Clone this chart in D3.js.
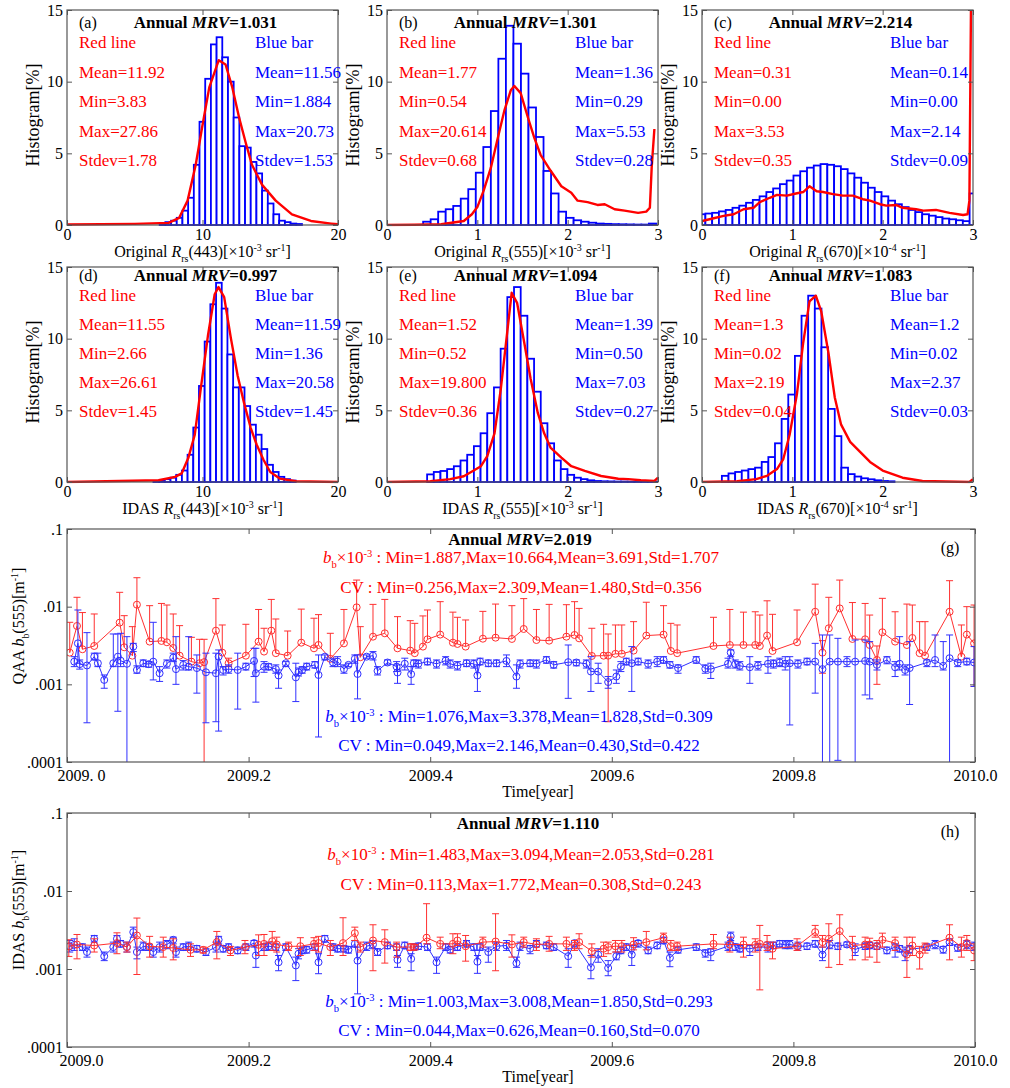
<!DOCTYPE html>
<html>
<head>
<meta charset="utf-8">
<script src="https://cdn.jsdelivr.net/npm/d3@7"></script>
<style>
  body { margin: 0; background: #fff; }
  text { font-family: "Liberation Serif", "Times New Roman", serif; }
</style>
</head>
<body>
<script>
// ---------- histogram panels (a)-(f): bar heights in percent ----------
var aBins = {start: 6.84, width: 0.42};
var aBars = [0.1, 0.2, 0.3, 0.5, 1.0, 1.9, 4.2, 7.2, 10.2, 12.6, 13.1, 11.7, 10.0, 7.5, 5.5, 5.4, 4.4, 3.6, 2.4, 1.5, 0.75, 0.3, 0.2, 0.1, 0.07];
var aLineX = [0, 5, 7.5, 8.28, 8.9, 9.5, 9.97, 10.5, 11.2, 11.7, 12.2, 12.7, 13.2, 13.65, 14.4, 15.4, 16.6, 18.0, 19.5, 20];
var aLineY = [0.03, 0.08, 0.15, 0.5, 1.7, 4.2, 6.8, 9.6, 11.5, 11.2, 9.6, 7.5, 5.7, 4.2, 2.8, 1.7, 0.74, 0.28, 0.1, 0.05];

var bBins = {start: 0.40, width: 0.0833};
var bBars = [0.23, 0.4, 0.93, 1.1, 1.33, 1.84, 2.5, 3.65, 5.44, 7.95, 11.6, 13.9, 12.65, 10.56, 8.2, 6.14, 3.77, 2.2, 0.93, 0.5, 0.33, 0.23, 0.16, 0.1, 0.08, 0.06, 0.05, 0.04, 0.03, 0.03, 0.1];
var bLineX = [0, 0.3, 0.6, 0.85, 0.94, 1.0, 1.07, 1.15, 1.22, 1.3, 1.37, 1.41, 1.48, 1.56, 1.63, 1.7, 1.81, 1.93, 2.04, 2.11, 2.22, 2.33, 2.41, 2.52, 2.63, 2.78, 2.87, 2.91, 2.93, 2.96];
var bLineY = [0, 0.02, 0.05, 0.28, 0.75, 1.25, 2.4, 4.0, 5.9, 8.0, 9.4, 9.7, 9.2, 7.5, 6.1, 4.9, 3.8, 2.7, 2.25, 1.7, 1.6, 1.4, 1.45, 1.1, 1.0, 0.85, 0.93, 1.2, 4.0, 6.7];

var cBins = {start: -0.0375, width: 0.075};
var cBars = [0.75, 0.8, 0.85, 0.95, 1.05, 1.2, 1.35, 1.55, 1.75, 2.0, 2.3, 2.55, 2.85, 3.1, 3.45, 3.75, 4.0, 4.15, 4.25, 4.2, 4.1, 3.9, 3.6, 3.3, 2.95, 2.6, 2.3, 2.0, 1.7, 1.45, 1.25, 1.05, 0.9, 0.75, 0.65, 0.55, 0.45, 0.4, 0.33, 0.27, 2.2];
var cLineX = [0, 0.13, 0.24, 0.35, 0.46, 0.57, 0.64, 0.75, 0.83, 0.94, 1.04, 1.12, 1.19, 1.27, 1.34, 1.45, 1.56, 1.67, 1.78, 1.86, 1.97, 2.04, 2.15, 2.22, 2.37, 2.45, 2.59, 2.74, 2.89, 2.94, 2.96, 2.98];
var cLineY = [0.28, 0.47, 0.64, 0.75, 1.1, 1.2, 1.6, 1.9, 2.1, 2.05, 2.2, 2.3, 2.7, 2.35, 2.3, 2.15, 2.05, 2.05, 1.8, 1.7, 1.45, 1.35, 1.4, 1.2, 1.1, 1.0, 1.05, 0.85, 0.7, 0.75, 1.7, 17];

var dBins = {start: 6.38, width: 0.42};
var dBars = [0.05, 0.1, 0.2, 0.3, 0.5, 0.8, 1.9, 3.8, 6.7, 9.8, 12.4, 13.9, 12.1, 8.9, 6.6, 6.6, 5.3, 4.0, 3.3, 2.3, 1.2, 0.7, 0.36, 0.2, 0.1];
var dLineX = [0, 6.76, 7.98, 8.46, 8.95, 9.43, 9.9, 10.4, 10.9, 11.18, 11.6, 12.1, 12.6, 13.07, 13.55, 14.0, 14.5, 15.0, 15.7, 16.9, 20];
var dLineY = [0, 0.12, 0.36, 0.6, 1.67, 3.3, 6.7, 10.2, 13.1, 13.6, 12.9, 10, 7.4, 5.5, 3.8, 2.6, 1.55, 0.7, 0.24, 0.05, 0];

var eBins = {start: 0.444, width: 0.074};
var eBars = [0.53, 0.7, 0.77, 0.9, 1.1, 1.5, 1.9, 2.5, 3.4, 4.8, 6.6, 9.3, 12.9, 13.6, 11.6, 8.6, 6.3, 4.1, 2.7, 1.5, 0.9, 0.5, 0.3, 0.2, 0.12, 0.07, 0.05, 0.04, 0.03, 0.03, 0.02, 0.02, 0.02, 0.02, 0.02, 0.02, 0.02];
var eLineX = [0, 0.48, 0.7, 0.85, 0.96, 1.04, 1.11, 1.19, 1.26, 1.33, 1.38, 1.44, 1.52, 1.59, 1.67, 1.74, 1.81, 1.93, 2.04, 2.19, 2.37, 2.56, 2.67, 2.81, 2.96, 3.0];
var eLineY = [0, 0.05, 0.2, 0.4, 0.8, 1.1, 1.8, 3.4, 6.5, 10.4, 13.2, 12.5, 9.7, 7.2, 4.8, 3.4, 2.4, 1.7, 1.1, 0.77, 0.42, 0.23, 0.2, 0.12, 0.07, 0.3];

var fBins = {start: 0.22, width: 0.0735};
var fBars = [0.43, 0.6, 0.7, 0.8, 0.9, 1.0, 1.4, 1.74, 2.7, 4.4, 6.1, 8.8, 11.6, 13.0, 12.1, 9.4, 5.1, 3.2, 1.0, 0.55, 0.38, 0.26, 0.19, 0.12, 0.07, 0.05];
var fLineX = [0, 0.39, 0.6, 0.72, 0.83, 0.9, 0.97, 1.05, 1.12, 1.19, 1.26, 1.32, 1.4, 1.47, 1.54, 1.64, 1.75, 1.86, 2.0, 2.22, 2.44, 2.96, 3.0];
var fLineY = [0, 0.05, 0.2, 0.43, 0.9, 1.6, 3.3, 6.1, 9.7, 12.6, 13.0, 11.9, 9.0, 5.9, 4.0, 2.8, 2.1, 1.4, 0.8, 0.3, 0.07, 0, 0.2];

var panelLetters = ["(a)", "(b)", "(c)", "(d)", "(e)", "(f)"];
var mrvValues = ["=1.031", "=1.301", "=2.214", "=0.997", "=1.094", "=1.083"];
var redStats = [
  ["Mean=11.92", "Min=3.83", "Max=27.86", "Stdev=1.78"],
  ["Mean=1.77", "Min=0.54", "Max=20.614", "Stdev=0.68"],
  ["Mean=0.31", "Min=0.00", "Max=3.53", "Stdev=0.35"],
  ["Mean=11.55", "Min=2.66", "Max=26.61", "Stdev=1.45"],
  ["Mean=1.52", "Min=0.52", "Max=19.800", "Stdev=0.36"],
  ["Mean=1.3", "Min=0.02", "Max=2.19", "Stdev=0.04"]
];
var blueStats = [
  ["Mean=11.56", "Min=1.884", "Max=20.73", "Stdev=1.53"],
  ["Mean=1.36", "Min=0.29", "Max=5.53", "Stdev=0.28"],
  ["Mean=0.14", "Min=0.00", "Max=2.14", "Stdev=0.09"],
  ["Mean=11.59", "Min=1.36", "Max=20.58", "Stdev=1.45"],
  ["Mean=1.39", "Min=0.50", "Max=7.03", "Stdev=0.27"],
  ["Mean=1.2", "Min=0.02", "Max=2.37", "Stdev=0.03"]
];
var xPrefix = ["Original ", "Original ", "Original ", "IDAS ", "IDAS ", "IDAS "];
var xBand = ["(443)[×10", "(555)[×10", "(670)[×10", "(443)[×10", "(555)[×10", "(670)[×10"];
var xExp = ["-3", "-3", "-4", "-3", "-3", "-4"];
var xMax = [20, 3, 3, 20, 3, 3];
var xTicks = [[0, 10, 20], [0, 1, 2, 3], [0, 1, 2, 3], [0, 10, 20], [0, 1, 2, 3], [0, 1, 2, 3]];
var histYTicks = [0, 5, 10, 15];

// ---------- time series (g), (h): [time, value, upper, lower] in 10^-3 m^-1, lower null = not drawn ----------
var qaaRed = [
  [2009.003, 2.56, 6.29, null], [2009.011, 5.64, 13.2, null], [2009.017, 2.83, 8.4, null], [2009.030, 3.12, 8.05, null],
  [2009.058, 6.23, 15.3, null], [2009.063, 3.0, 7.66, null], [2009.072, 2.34, 5.53, null], [2009.077, 10.6, 23.6, null],
  [2009.091, 3.55, 10.3, null], [2009.104, 3.62, 11.0, null], [2009.110, 3.48, 10.5, null], [2009.117, 2.94, 8.05, null],
  [2009.124, 2.34, 5.7, null], [2009.137, 1.96, 4.03, null], [2009.146, 1.87, 3.80, null], [2009.151, 1.93, 3.80, 0.05],
  [2009.164, 4.91, 12.7, null], [2009.171, 2.56, 5.81, null], [2009.178, 1.87, 2.17, 1.69], [2009.197, 2.34, 5.93, null],
  [2009.211, 3.55, 9.2, null], [2009.217, 2.64, 5.27, null], [2009.225, 4.91, 12.4, null], [2009.230, 2.52, 6.94, null],
  [2009.243, 2.34, 4.86, null], [2009.258, 3.44, 9.3, null], [2009.272, 2.91, 7.1, null], [2009.277, 3.21, 7.9, null],
  [2009.290, 2.13, 4.54, null], [2009.305, 3.37, 9.2, null], [2009.319, 9.8, 22.0, null], [2009.323, 2.23, 5.53, null],
  [2009.337, 4.11, 10.7, null], [2009.350, 4.54, 12.4, null], [2009.364, 2.91, 7.44, null], [2009.378, 2.72, 6.6, null],
  [2009.383, 2.52, 6.1, null], [2009.392, 3.06, 7.6, null], [2009.397, 3.80, 9.06, null], [2009.411, 4.37, 11.6, null],
  [2009.425, 3.44, 8.5, null], [2009.430, 3.31, 7.3, null], [2009.439, 3.06, 6.74, null], [2009.458, 3.87, 8.7, null],
  [2009.472, 3.99, 10.8, null], [2009.490, 3.84, 10.3, null], [2009.503, 5.16, 12.7, null], [2009.517, 3.72, 9.2, null],
  [2009.531, 3.65, 10.7, null], [2009.550, 4.11, 10.6, null], [2009.559, 4.32, 11.6, null], [2009.564, 3.91, 9.5, null],
  [2009.578, 2.32, 5.27, null], [2009.591, 2.34, 5.93, null], [2009.596, 2.34, 4.45, 0.33], [2009.604, 2.47, 5.81, null],
  [2009.611, 2.47, 5.81, null], [2009.624, 2.72, 6.41, null], [2009.638, 4.24, 11.4, null], [2009.657, 4.37, 10.3, null],
  [2009.665, 2.69, 6.1, null], [2009.672, 2.52, 5.81, null], [2009.712, 3.12, 7.3, null], [2009.730, 3.21, 9.2, null],
  [2009.745, 3.21, 8.5, null], [2009.758, 3.21, 8.6, null], [2009.763, 3.12, 7.8, null], [2009.771, 4.24, 11.9, null],
  [2009.777, 2.69, 7.97, null], [2009.804, 3.48, 9.06, null], [2009.824, 8.6, 19.5, null], [2009.832, 2.56, 3.65, 1.39],
  [2009.839, 5.27, 13.2, null], [2009.851, 9.5, 22.0, null], [2009.865, 3.84, 11.3, null], [2009.879, 3.80, 11.0, null],
  [2009.884, 3.21, 7.8, null], [2009.892, 2.06, 3.12, 1.0], [2009.898, 4.68, 12.8, null], [2009.912, 3.55, 8.6, null],
  [2009.925, 3.21, 10.8, null], [2009.931, 3.95, 10.5, null], [2009.939, 2.52, 6.41, null], [2009.945, 2.34, 6.41, null],
  [2009.972, 8.6, 21.6, null], [2009.985, 2.27, 5.81, null], [2009.991, 4.37, 10.0, null], [2009.999, 3.37, 10.5, 0.94]
];
var qaaBlue = [
  [2009.008, 1.96, 2.27, 1.69], [2009.012, 3.37, 9.06, 1.87], [2009.014, 1.82, 2.06, 1.57], [2009.022, 1.75, 4.63, 0.32],
  [2009.030, 2.27, 2.52, 2.06], [2009.034, 1.87, 2.52, 1.69], [2009.041, 1.14, 1.32, 0.89], [2009.051, 1.87, 4.45, 1.69],
  [2009.056, 2.27, 4.45, 0.45], [2009.059, 2.02, 4.54, 1.69], [2009.066, 1.84, 4.11, 0.05], [2009.073, 3.06, 3.37, 2.64],
  [2009.077, 1.53, 1.73, 1.39], [2009.084, 1.87, 2.06, 1.69], [2009.090, 1.82, 1.96, 1.66], [2009.095, 1.96, 6.29, 1.14],
  [2009.102, 1.39, 1.69, 1.09], [2009.110, 1.84, 2.06, 1.62], [2009.117, 2.21, 2.52, 1.96], [2009.120, 1.57, 4.11, 1.0],
  [2009.128, 1.78, 2.02, 1.53], [2009.134, 1.69, 4.11, 1.53], [2009.143, 1.62, 2.39, 0.77], [2009.153, 1.43, 2.52, 0.32],
  [2009.164, 1.39, 2.52, 0.33], [2009.167, 2.27, 2.77, 0.25], [2009.172, 1.53, 1.69, 1.32], [2009.178, 1.57, 1.78, 1.39],
  [2009.188, 1.53, 2.52, 0.48], [2009.197, 1.69, 1.87, 1.53], [2009.206, 2.0, 2.91, 1.26], [2009.208, 1.39, 2.91, 0.59],
  [2009.217, 1.69, 1.96, 1.43], [2009.222, 1.69, 1.84, 1.53], [2009.230, 1.57, 1.78, 1.39], [2009.233, 1.30, 1.53, 0.89],
  [2009.241, 1.87, 1.96, 1.69], [2009.252, 1.23, 1.87, 0.60], [2009.255, 1.43, 1.62, 1.28], [2009.259, 1.53, 1.69, 1.39],
  [2009.264, 1.69, 1.87, 1.53], [2009.273, 1.78, 1.96, 1.62], [2009.277, 1.32, 2.39, 0.21], [2009.284, 2.27, 2.39, 2.06],
  [2009.293, 1.91, 2.17, 1.69], [2009.298, 1.96, 2.27, 1.69], [2009.305, 1.57, 1.78, 1.39], [2009.310, 1.78, 1.87, 1.69],
  [2009.317, 2.13, 2.39, 1.87], [2009.320, 1.36, 2.39, 0.65], [2009.330, 2.27, 2.39, 2.17], [2009.337, 2.34, 2.64, 2.06],
  [2009.342, 1.49, 1.69, 1.32], [2009.353, 1.91, 2.06, 1.78], [2009.363, 1.69, 1.96, 1.46], [2009.364, 1.42, 1.78, 1.03],
  [2009.372, 1.84, 2.17, 1.53], [2009.379, 1.35, 1.69, 1.0], [2009.382, 1.87, 2.06, 1.69], [2009.387, 1.84, 2.06, 1.62],
  [2009.397, 1.96, 2.17, 1.78], [2009.407, 1.84, 2.06, 1.62], [2009.417, 2.02, 2.27, 1.78], [2009.422, 1.84, 2.06, 1.62],
  [2009.430, 1.73, 1.96, 1.53], [2009.440, 1.87, 2.06, 1.69], [2009.448, 1.84, 2.06, 1.62], [2009.452, 1.30, 1.78, 0.81],
  [2009.455, 1.96, 2.17, 1.78], [2009.464, 1.87, 2.06, 1.69], [2009.473, 1.87, 2.06, 1.69], [2009.484, 2.0, 2.39, 1.69],
  [2009.495, 1.26, 1.78, 0.89], [2009.499, 1.84, 2.06, 1.62], [2009.510, 1.87, 2.06, 1.69], [2009.517, 1.84, 2.06, 1.62],
  [2009.528, 2.06, 2.27, 1.87], [2009.536, 1.78, 1.96, 1.62], [2009.552, 1.93, 3.21, 0.66], [2009.561, 1.91, 2.06, 1.73],
  [2009.572, 1.84, 2.06, 1.62], [2009.577, 1.46, 2.27, 0.81], [2009.585, 1.46, 1.87, 1.03], [2009.596, 1.07, 1.26, 0.89],
  [2009.605, 1.26, 1.53, 1.03], [2009.610, 1.69, 1.96, 1.46], [2009.616, 1.96, 2.17, 1.78], [2009.622, 1.87, 3.06, 0.81],
  [2009.629, 1.96, 2.17, 1.78], [2009.640, 1.84, 2.06, 1.62], [2009.650, 1.96, 2.27, 1.69], [2009.657, 2.06, 2.27, 1.87],
  [2009.664, 1.78, 1.96, 1.62], [2009.673, 1.62, 1.78, 1.39], [2009.693, 2.06, 2.27, 1.87], [2009.703, 1.59, 1.78, 1.39],
  [2009.709, 1.57, 1.87, 1.19], [2009.728, 1.84, 2.17, 1.62], [2009.731, 2.56, 2.77, 2.27], [2009.736, 1.82, 2.06, 1.62],
  [2009.741, 1.73, 1.96, 1.53], [2009.752, 1.66, 2.27, 1.03], [2009.761, 1.75, 1.96, 1.53], [2009.772, 1.84, 2.27, 1.39],
  [2009.778, 1.84, 2.06, 1.62], [2009.785, 1.91, 2.17, 1.69], [2009.791, 1.84, 2.27, 1.53], [2009.796, 1.87, 2.27, 0.30],
  [2009.805, 1.84, 2.06, 1.62], [2009.815, 1.96, 2.17, 1.78], [2009.824, 1.96, 3.37, 0.77], [2009.832, 1.57, 4.32, 0.05],
  [2009.840, 1.96, 4.32, 0.05], [2009.849, 1.96, 3.91, 0.105], [2009.859, 1.96, 2.27, 1.69], [2009.868, 1.96, 3.72, 0.05],
  [2009.879, 2.0, 3.72, 0.73], [2009.884, 1.96, 3.55, 0.65], [2009.892, 1.78, 2.06, 1.53], [2009.903, 2.06, 2.27, 1.84],
  [2009.912, 1.66, 1.96, 1.26], [2009.917, 1.84, 4.11, 1.53], [2009.923, 1.53, 1.78, 1.32], [2009.928, 1.62, 3.55, 0.55],
  [2009.947, 1.91, 2.06, 1.69], [2009.956, 2.06, 4.32, 1.69], [2009.965, 1.73, 3.55, 1.53], [2009.972, 2.17, 4.32, 0.05],
  [2009.981, 1.91, 2.06, 1.69], [2009.991, 1.96, 2.17, 1.78], [2009.999, 1.91, 3.06, 0.94]
];
var idasRed = [
  [2009.002, 1.95, 2.37, 1.45], [2009.011, 2.06, 2.77, 1.35], [2009.030, 2.0, 2.44, 1.65], [2009.055, 2.15, 2.91, 1.57],
  [2009.066, 1.91, 2.21, 1.65], [2009.077, 2.69, 4.5, 0.85], [2009.091, 1.95, 2.62, 1.42], [2009.106, 1.91, 2.56, 1.42],
  [2009.117, 1.86, 2.44, 1.31], [2009.136, 1.76, 2.10, 1.45], [2009.150, 1.76, 1.91, 1.60], [2009.165, 2.21, 3.03, 1.35],
  [2009.180, 1.73, 1.95, 1.49], [2009.196, 1.91, 2.32, 1.57], [2009.211, 2.04, 2.74, 1.49], [2009.217, 2.10, 2.77, 1.49],
  [2009.226, 2.27, 3.03, 1.73], [2009.231, 2.06, 2.56, 1.65], [2009.244, 1.95, 2.21, 1.73], [2009.257, 1.96, 2.52, 1.49],
  [2009.272, 2.10, 2.52, 1.73], [2009.277, 2.15, 2.62, 1.65], [2009.290, 1.91, 2.32, 1.49], [2009.304, 2.15, 4.54, 1.49],
  [2009.317, 2.88, 3.44, 2.32], [2009.323, 1.91, 2.21, 1.65], [2009.337, 2.32, 3.69, 0.95], [2009.350, 2.21, 3.18, 1.19],
  [2009.363, 1.91, 2.21, 1.42], [2009.378, 1.91, 2.10, 1.73], [2009.383, 1.91, 2.06, 1.76], [2009.396, 2.52, 6.87, 2.10],
  [2009.411, 2.10, 2.56, 1.82], [2009.425, 2.10, 2.83, 1.57], [2009.430, 2.32, 2.83, 2.0], [2009.439, 1.96, 2.69, 1.26],
  [2009.458, 2.21, 2.56, 1.91], [2009.472, 2.25, 5.11, 0.95], [2009.490, 2.06, 2.74, 1.42], [2009.503, 2.21, 2.56, 1.91],
  [2009.517, 2.06, 2.44, 1.73], [2009.531, 2.10, 2.62, 1.69], [2009.550, 2.10, 2.56, 1.73], [2009.559, 2.0, 2.32, 1.73],
  [2009.564, 2.21, 2.83, 1.82], [2009.578, 1.69, 2.10, 1.42], [2009.591, 1.82, 2.21, 1.45], [2009.596, 1.91, 2.21, 1.57],
  [2009.604, 1.96, 2.32, 1.65], [2009.611, 1.96, 2.32, 1.65], [2009.624, 2.06, 2.52, 1.76], [2009.638, 2.21, 3.03, 1.76],
  [2009.657, 2.52, 2.88, 2.21], [2009.665, 1.96, 2.32, 1.73], [2009.672, 1.96, 2.21, 1.73], [2009.712, 2.10, 2.77, 1.82],
  [2009.730, 2.06, 2.56, 1.65], [2009.745, 2.06, 2.56, 1.42], [2009.758, 2.04, 2.44, 1.65], [2009.763, 2.10, 3.62, 0.54],
  [2009.771, 2.04, 2.69, 1.73], [2009.777, 1.82, 2.21, 1.35], [2009.804, 1.96, 2.44, 1.73], [2009.824, 2.97, 3.62, 2.56],
  [2009.832, 2.21, 2.69, 1.91], [2009.839, 2.44, 3.80, 1.05], [2009.851, 3.06, 4.96, 1.14], [2009.865, 2.0, 2.62, 1.31],
  [2009.879, 2.06, 2.56, 1.31], [2009.884, 2.06, 2.48, 1.42], [2009.892, 1.96, 2.32, 1.22], [2009.898, 2.37, 2.88, 1.91],
  [2009.912, 2.15, 2.56, 1.73], [2009.925, 1.53, 2.56, 0.78], [2009.931, 2.0, 2.56, 1.49], [2009.939, 1.53, 1.95, 1.0],
  [2009.945, 1.91, 2.15, 1.60], [2009.972, 2.52, 3.69, 1.31], [2009.985, 1.91, 2.56, 1.42], [2009.991, 2.15, 2.69, 1.73],
  [2009.999, 1.73, 2.10, 1.28]
];
var idasBlue = [
  [2009.003, 1.96, 2.32, 1.65], [2009.008, 2.04, 2.44, 1.73], [2009.017, 1.91, 2.10, 1.73], [2009.022, 1.65, 1.91, 1.42],
  [2009.030, 2.44, 2.69, 2.21], [2009.041, 1.46, 1.65, 1.28], [2009.051, 1.91, 2.21, 1.65], [2009.055, 2.44, 2.69, 2.21],
  [2009.059, 2.10, 2.32, 1.91], [2009.066, 1.91, 2.21, 1.65], [2009.073, 2.97, 3.44, 2.56], [2009.077, 1.65, 1.91, 1.35],
  [2009.084, 1.96, 2.21, 1.73], [2009.090, 1.91, 2.10, 1.73], [2009.095, 1.65, 1.91, 1.42], [2009.102, 1.91, 2.21, 1.65],
  [2009.110, 2.06, 2.32, 1.82], [2009.117, 2.37, 2.56, 2.10], [2009.120, 1.65, 1.91, 1.42], [2009.128, 1.91, 2.10, 1.73],
  [2009.134, 1.96, 2.21, 1.73], [2009.143, 1.82, 2.0, 1.65], [2009.153, 1.65, 1.82, 1.49], [2009.164, 1.91, 2.21, 1.65],
  [2009.167, 2.37, 2.62, 2.10], [2009.172, 1.82, 2.0, 1.65], [2009.178, 1.91, 2.10, 1.73], [2009.188, 1.73, 1.91, 1.57],
  [2009.197, 1.91, 2.10, 1.73], [2009.206, 2.15, 2.32, 1.91], [2009.208, 1.49, 2.0, 1.05], [2009.217, 1.91, 2.10, 1.73],
  [2009.222, 1.96, 2.21, 1.73], [2009.230, 1.91, 2.10, 1.73], [2009.233, 1.22, 1.49, 0.95], [2009.241, 1.91, 2.10, 1.73],
  [2009.252, 1.11, 1.42, 0.71], [2009.255, 1.57, 1.82, 1.35], [2009.259, 1.73, 1.91, 1.57], [2009.264, 1.76, 1.95, 1.60],
  [2009.273, 1.91, 2.10, 1.73], [2009.277, 1.22, 1.57, 0.87], [2009.284, 2.44, 2.69, 2.21], [2009.293, 1.91, 2.10, 1.73],
  [2009.298, 1.82, 2.0, 1.65], [2009.305, 1.82, 2.0, 1.65], [2009.310, 1.76, 1.95, 1.60], [2009.317, 2.10, 2.32, 1.91],
  [2009.320, 1.28, 1.91, 0.48], [2009.330, 1.96, 2.21, 1.73], [2009.337, 2.06, 2.32, 1.82], [2009.342, 1.65, 1.82, 1.49],
  [2009.353, 2.0, 2.21, 1.82], [2009.363, 1.91, 2.10, 1.73], [2009.364, 1.31, 1.49, 1.05], [2009.372, 2.0, 2.21, 1.82],
  [2009.379, 1.35, 1.57, 0.95], [2009.382, 1.91, 2.10, 1.73], [2009.387, 1.96, 2.15, 1.78], [2009.397, 1.91, 2.10, 1.73],
  [2009.407, 1.22, 1.42, 0.88], [2009.417, 1.91, 2.10, 1.73], [2009.422, 1.76, 1.95, 1.60], [2009.430, 1.91, 2.10, 1.73],
  [2009.440, 2.10, 2.32, 1.91], [2009.448, 1.91, 2.10, 1.73], [2009.452, 1.24, 1.49, 0.88], [2009.455, 1.91, 2.10, 1.73],
  [2009.464, 1.65, 1.91, 1.22], [2009.473, 1.96, 2.21, 1.73], [2009.484, 2.0, 2.32, 1.73], [2009.495, 1.19, 1.42, 1.05],
  [2009.499, 1.96, 2.21, 1.73], [2009.510, 1.82, 2.0, 1.57], [2009.517, 2.10, 2.32, 1.91], [2009.528, 2.0, 2.21, 1.82],
  [2009.536, 1.91, 2.10, 1.73], [2009.552, 1.46, 1.82, 1.05], [2009.559, 2.15, 2.32, 1.91], [2009.577, 1.05, 1.49, 0.75],
  [2009.585, 1.53, 1.82, 1.22], [2009.596, 1.03, 1.28, 0.82], [2009.605, 1.46, 1.65, 1.31], [2009.610, 1.73, 1.91, 1.57],
  [2009.616, 1.91, 2.10, 1.73], [2009.622, 1.53, 2.0, 1.11], [2009.629, 2.15, 2.32, 1.91], [2009.640, 1.73, 1.91, 1.57],
  [2009.650, 2.0, 2.21, 1.82], [2009.657, 2.32, 2.56, 2.10], [2009.664, 1.39, 1.65, 1.07], [2009.673, 1.76, 1.91, 1.60],
  [2009.693, 1.91, 2.10, 1.73], [2009.703, 1.60, 1.76, 1.42], [2009.709, 1.65, 1.82, 1.28], [2009.728, 1.96, 2.21, 1.73],
  [2009.731, 2.62, 2.97, 2.32], [2009.736, 1.91, 2.10, 1.73], [2009.741, 1.82, 2.0, 1.65], [2009.752, 1.82, 2.0, 1.49],
  [2009.761, 1.91, 2.10, 1.73], [2009.772, 1.91, 2.21, 1.65], [2009.778, 2.0, 2.21, 1.82], [2009.785, 2.10, 2.32, 1.91],
  [2009.791, 2.04, 2.32, 1.82], [2009.796, 2.06, 2.32, 1.82], [2009.805, 1.96, 2.21, 1.73], [2009.815, 1.96, 2.15, 1.78],
  [2009.824, 2.10, 2.32, 1.91], [2009.832, 1.53, 1.91, 1.28], [2009.840, 2.04, 2.32, 1.82], [2009.849, 1.96, 2.15, 1.78],
  [2009.859, 2.06, 2.21, 1.91], [2009.868, 1.78, 2.10, 1.49], [2009.879, 1.96, 2.15, 1.78], [2009.884, 2.0, 2.21, 1.82],
  [2009.892, 1.96, 2.15, 1.78], [2009.903, 1.73, 1.91, 1.57], [2009.912, 1.91, 2.10, 1.42], [2009.917, 1.82, 2.0, 1.65],
  [2009.923, 1.60, 1.91, 1.28], [2009.928, 1.78, 2.0, 1.60], [2009.947, 1.91, 2.10, 1.73], [2009.956, 2.06, 2.32, 1.82],
  [2009.965, 1.78, 1.95, 1.60], [2009.972, 2.21, 2.44, 2.0], [2009.981, 1.87, 2.06, 1.69], [2009.991, 2.06, 2.32, 1.82],
  [2009.999, 1.96, 2.21, 1.73]
];
var timeTicks = [2009, 2009.2, 2009.4, 2009.6, 2009.8, 2010];
var timeLabelsG = ["2009. 0", "2009.2", "2009.4", "2009.6", "2009.8", "2010.0"];
var timeLabelsH = ["2009.0", "2009.2", "2009.4", "2009.6", "2009.8", "2010.0"];
var logTicks = [0.1, 1, 10, 100];              // in 10^-3 m^-1
var logLabels = [".0001", ".001", ".01", ".1"];

var statsG = {
  mrv: "=2.019",
  red: [" : Min=1.887,Max=10.664,Mean=3.691,Std=1.707", "CV : Min=0.256,Max=2.309,Mean=1.480,Std=0.356"],
  blue: [" : Min=1.076,Max=3.378,Mean=1.828,Std=0.309", "CV : Min=0.049,Max=2.146,Mean=0.430,Std=0.422"]
};
var statsH = {
  mrv: "=1.110",
  red: [" : Min=1.483,Max=3.094,Mean=2.053,Std=0.281", "CV : Min=0.113,Max=1.772,Mean=0.308,Std=0.243"],
  blue: [" : Min=1.003,Max=3.008,Mean=1.850,Std=0.293", "CV : Min=0.044,Max=0.626,Mean=0.160,Std=0.070"]
};

var RED = "#ff0000", BLUE = "#0000ff", FRAME = "#555";

var svg = d3.select("body").append("svg").attr("width", 1010).attr("height", 1088);

// writes mixed text: parts = [[string, kind]], kind: "", "i", "sub", "sup"
function rich(sel, parts, size) {
  var shift = 0;
  parts.forEach(function(p) {
    var ts = sel.append("tspan").text(p[0]);
    var target = 0;
    if (p[1] == "sub") target = size * 0.3;
    if (p[1] == "sup") target = -size * 0.38;
    if (p[1] == "sub" || p[1] == "sup") ts.style("font-size", (size * 0.62) + "px");
    if (p[1] == "i") ts.style("font-style", "italic");
    if (target - shift != 0) ts.attr("dy", target - shift);
    shift = target;
  });
  return sel;
}

function styleAxis(ax, size) {
  ax.select(".domain").remove();
  ax.attr("font-family", null).attr("font-size", null);
  ax.selectAll(".tick line").attr("stroke", FRAME);
  ax.selectAll(".tick text").attr("fill", "#000").style("font-size", size + "px");
  return ax;
}

function boxAxes(g, x, y, xt, xfmt, yt, yfmt, fs, pad) {
  var x0 = x.range()[0], x1 = x.range()[1], y0 = y.range()[0], y1 = y.range()[1];
  var bottom = styleAxis(g.append("g").attr("transform", "translate(0," + y0 + ")")
    .call(d3.axisBottom(x).tickValues(xt).tickFormat(xfmt).tickSizeInner(-5).tickSizeOuter(0).tickPadding(pad)), fs);
  styleAxis(g.append("g").attr("transform", "translate(0," + y1 + ")")
    .call(d3.axisTop(x).tickValues(xt).tickFormat("").tickSizeInner(-5).tickSizeOuter(0)), fs);
  styleAxis(g.append("g").attr("transform", "translate(" + x0 + ",0)")
    .call(d3.axisLeft(y).tickValues(yt).tickFormat(yfmt).tickSizeInner(-5).tickSizeOuter(0).tickPadding(4)), fs);
  styleAxis(g.append("g").attr("transform", "translate(" + x1 + ",0)")
    .call(d3.axisRight(y).tickValues(yt).tickFormat("").tickSizeInner(-5).tickSizeOuter(0)), fs);
  g.append("rect").attr("x", x0).attr("y", y1).attr("width", x1 - x0).attr("height", y0 - y1)
    .attr("fill", "none").attr("stroke", FRAME).attr("stroke-width", 1.2);
  return bottom;
}

// ---------- histograms ----------
var histBins = [aBins, bBins, cBins, dBins, eBins, fBins];
var histBars = [aBars, bBars, cBars, dBars, eBars, fBars];
var histLineX = [aLineX, bLineX, cLineX, dLineX, eLineX, fLineX];
var histLineY = [aLineY, bLineY, cLineY, dLineY, eLineY, fLineY];

function drawHist(i) {
  var col = i % 3, row = Math.floor(i / 3);
  var left = [67, 387, 702][col], w = 271;
  var top = [10, 267][row], h = 215;
  var x = d3.scaleLinear().domain([0, xMax[i]]).range([left, left + w]);
  var y = d3.scaleLinear().domain([0, 15]).range([top + h, top]);
  var g = svg.append("g");

  g.append("clipPath").attr("id", "clipH" + i).append("rect")
    .attr("x", left).attr("y", top).attr("width", w).attr("height", h + 1.5);
  var plot = g.append("g").attr("clip-path", "url(#clipH" + i + ")");
  var bins = histBins[i];
  plot.selectAll("rect.bar").data(histBars[i]).enter().append("rect")
    .attr("class", "bar")
    .attr("x", function(d, k) { return x(bins.start + k * bins.width); })
    .attr("width", x(bins.width) - x(0))
    .attr("y", function(d) { return y(d); })
    .attr("height", function(d) { return y(0) - y(d); })
    .attr("fill", "#fff").attr("stroke", BLUE).attr("stroke-width", 1.8);
  plot.append("path").datum(d3.zip(histLineX[i], histLineY[i]))
    .attr("d", d3.line().x(function(d) { return x(d[0]); }).y(function(d) { return y(d[1]); }))
    .attr("fill", "none").attr("stroke", RED).attr("stroke-width", 2.4).attr("stroke-linejoin", "round");

  boxAxes(g, x, y, xTicks[i], d3.format("d"), histYTicks, d3.format("d"), 16, 4);

  // labels
  g.append("text").attr("x", left + w / 2).attr("y", top + h + 32).attr("text-anchor", "middle")
    .style("font-size", "16px")
    .call(rich, [[xPrefix[i], ""], ["R", "i"], ["rs", "sub"], [xBand[i], ""], [xExp[i], "sup"], [" sr", ""], ["-1", "sup"], ["]", ""]], 16);
  g.append("text").attr("transform", "translate(" + (left - 28) + "," + (top + 105) + ") rotate(-90)")
    .attr("text-anchor", "middle").style("font-size", "18px").text("Histogram[%]");

  var titleY = [28, 281][row];
  var lineY = row == 0 ? [48, 78, 107, 137, 166] : [301, 330, 359, 388, 417];
  g.append("text").attr("x", left + 12).attr("y", titleY).style("font-size", "16px").text(panelLetters[i]);
  g.append("text").attr("x", left + w / 2 + 3).attr("y", titleY).attr("text-anchor", "middle")
    .style("font-size", "17px").style("font-weight", "bold")
    .call(rich, [["Annual ", ""], ["MRV", "i"], [mrvValues[i], ""]], 17);
  var redLines = ["Red line"].concat(redStats[i]);
  var blueLines = ["Blue bar"].concat(blueStats[i]);
  redLines.forEach(function(s, k) {
    g.append("text").attr("x", left + 12).attr("y", lineY[k]).style("font-size", "17px").attr("fill", RED).text(s);
  });
  blueLines.forEach(function(s, k) {
    g.append("text").attr("x", left + 188).attr("y", lineY[k]).style("font-size", "17px").attr("fill", BLUE).text(s);
  });
}
for (var i = 0; i < 6; i++) drawHist(i);

// ---------- time series ----------
function drawSeries(plot, rows, color, x, y) {
  var dmin = y.domain()[0], dmax = y.domain()[1];
  var clampY = function(v) { return y(Math.max(dmin, Math.min(dmax, v))); };
  plot.append("path").datum(rows)
    .attr("d", d3.line().x(function(d) { return x(d[0]); }).y(function(d) { return y(d[1]); }))
    .attr("fill", "none").attr("stroke", color).attr("stroke-width", 1);
  var eb = plot.append("g").attr("stroke", color).attr("stroke-width", 1).attr("fill", "none");
  rows.forEach(function(d) {
    var cx = x(d[0]);
    var lowEnd = d[3] == null ? d[1] : d[3];
    eb.append("line").attr("x1", cx).attr("x2", cx).attr("y1", clampY(d[2])).attr("y2", clampY(lowEnd));
    if (d[2] <= dmax) eb.append("line").attr("x1", cx - 3.5).attr("x2", cx + 3.5).attr("y1", y(d[2])).attr("y2", y(d[2]));
    if (d[3] != null && d[3] >= dmin) eb.append("line").attr("x1", cx - 3.5).attr("x2", cx + 3.5).attr("y1", y(d[3])).attr("y2", y(d[3]));
  });
  plot.append("g").selectAll("circle").data(rows).enter().append("circle")
    .attr("cx", function(d) { return x(d[0]); })
    .attr("cy", function(d) { return y(d[1]); })
    .attr("r", 3.5).attr("fill", "none").attr("stroke", color).attr("stroke-width", 1);
}

function drawTime(cfg) {
  var x = d3.scaleLinear().domain([2009, 2010]).range([67, 975]);
  var y = d3.scaleLog().domain([0.1, 100]).range([cfg.bottom, cfg.top]);
  var g = svg.append("g");
  g.append("clipPath").attr("id", cfg.id).append("rect")
    .attr("x", 67).attr("y", cfg.top).attr("width", 908).attr("height", cfg.bottom - cfg.top);
  var plot = g.append("g").attr("clip-path", "url(#" + cfg.id + ")");
  cfg.order.forEach(function(s) { drawSeries(plot, s[0], s[1], x, y); });

  var bottomAxis = boxAxes(g, x, y, timeTicks, function(d, k) { return cfg.tickLabels[k]; },
    logTicks, function(d, k) { return logLabels[k]; }, 16, 8);
  // first year label sits right of its tick, as in the original figure
  bottomAxis.selectAll(".tick text").filter(function(d, k) { return k == 0; }).attr("x", 14);

  g.append("text").attr("x", 538).attr("y", cfg.bottom + 35).attr("text-anchor", "middle")
    .style("font-size", "16px").text("Time[year]");
  g.append("text").attr("transform", "translate(24," + cfg.ylabelY + ") rotate(-90)")
    .attr("text-anchor", "middle").style("font-size", "16px")
    .call(rich, [[cfg.yPrefix, ""], ["b", "i"], ["b", "sub"], ["(555)[m", ""], ["-1", "sup"], ["]", ""]], 16);

  var t = cfg.top;
  g.append("text").attr("x", cfg.titleX).attr("y", t + 16).attr("text-anchor", "middle")
    .style("font-size", "17px").style("font-weight", "bold")
    .call(rich, [["Annual ", ""], ["MRV", "i"], [cfg.stats.mrv, ""]], 17);
  g.append("text").attr("x", 950).attr("y", t + 24).attr("text-anchor", "middle")
    .style("font-size", "16px").text(cfg.letter);
  var ys = [t + cfg.dy[0], t + cfg.dy[1], t + cfg.dy[2], t + cfg.dy[3]];
  g.append("text").attr("x", 521).attr("y", ys[0]).attr("text-anchor", "middle").attr("fill", RED)
    .style("font-size", "17px")
    .call(rich, [["b", "i"], ["b", "sub"], ["×10", ""], ["-3", "sup"], [cfg.stats.red[0], ""]], 17);
  g.append("text").attr("x", 521).attr("y", ys[1]).attr("text-anchor", "middle").attr("fill", RED)
    .style("font-size", "17px").text(cfg.stats.red[1]);
  g.append("text").attr("x", 519).attr("y", ys[2]).attr("text-anchor", "middle").attr("fill", BLUE)
    .style("font-size", "17px")
    .call(rich, [["b", "i"], ["b", "sub"], ["×10", ""], ["-3", "sup"], [cfg.stats.blue[0], ""]], 17);
  g.append("text").attr("x", 519).attr("y", ys[3]).attr("text-anchor", "middle").attr("fill", BLUE)
    .style("font-size", "17px").text(cfg.stats.blue[1]);
}

drawTime({
  id: "clipG", top: 529, bottom: 762, letter: "(g)", yPrefix: "QAA ", ylabelY: 626,
  tickLabels: timeLabelsG, stats: statsG, titleX: 520, dy: [34, 64, 193, 222],
  order: [[qaaRed, "#ff3030"], [qaaBlue, "#3030ff"]]
});
drawTime({
  id: "clipHH", top: 813, bottom: 1047, letter: "(h)", yPrefix: "IDAS ", ylabelY: 910,
  tickLabels: timeLabelsH, stats: statsH, titleX: 528, dy: [47, 77, 194, 223],
  order: [[idasBlue, "#3030ff"], [idasRed, "#ff3030"]]
});
</script>
</body>
</html>
